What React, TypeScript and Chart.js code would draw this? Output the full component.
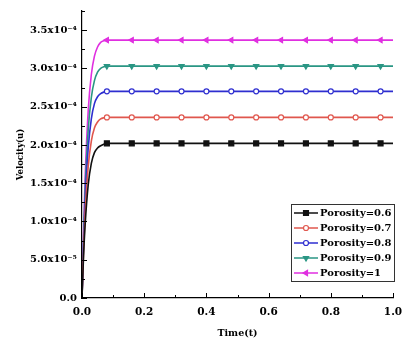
import React, { useEffect, useRef } from "react";
import { Chart, registerables } from "chart.js";
import { drawPoint } from "chart.js/helpers";

Chart.register(...registerables);

// Time samples (t)
const TIME = [0, 0.005, 0.01, 0.02, 0.03, 0.04, 0.05, 0.06, 0.07, 0.08, 0.16, 0.24, 0.32, 0.4, 0.48, 0.56, 0.64, 0.72, 0.8, 0.88, 0.96, 1.0];
const MARKER_TIMES = [0.08, 0.16, 0.24, 0.32, 0.4, 0.48, 0.56, 0.64, 0.72, 0.8, 0.88, 0.96];

// Velocity values in units of 1e-4
const POROSITY_06 = [0, 0.55, 0.95, 1.48, 1.76, 1.9, 1.96, 1.99, 2.01, 2.02, 2.02, 2.02, 2.02, 2.02, 2.02, 2.02, 2.02, 2.02, 2.02, 2.02, 2.02, 2.02];
const POROSITY_07 = [0, 0.62, 1.1, 1.72, 2.05, 2.22, 2.3, 2.34, 2.355, 2.36, 2.36, 2.36, 2.36, 2.36, 2.36, 2.36, 2.36, 2.36, 2.36, 2.36, 2.36, 2.36];
const POROSITY_08 = [0, 0.7, 1.25, 1.96, 2.34, 2.54, 2.63, 2.67, 2.69, 2.7, 2.7, 2.7, 2.7, 2.7, 2.7, 2.7, 2.7, 2.7, 2.7, 2.7, 2.7, 2.7];
const POROSITY_09 = [0, 0.78, 1.4, 2.2, 2.62, 2.84, 2.95, 3.0, 3.02, 3.03, 3.03, 3.03, 3.03, 3.03, 3.03, 3.03, 3.03, 3.03, 3.03, 3.03, 3.03, 3.03];
const POROSITY_10 = [0, 0.86, 1.56, 2.45, 2.92, 3.16, 3.28, 3.34, 3.36, 3.37, 3.37, 3.37, 3.37, 3.37, 3.37, 3.37, 3.37, 3.37, 3.37, 3.37, 3.37, 3.37];

const SERIES_LABELS = ["Porosity=0.6", "Porosity=0.7", "Porosity=0.8", "Porosity=0.9", "Porosity=1"];

const Y_TICKS = [0, 0.5, 1.0, 1.5, 2.0, 2.5, 3.0, 3.5];
const Y_TICK_LABELS = ["0.0", "5.0x10\u207B\u2075", "1.0x10\u207B\u2074", "1.5x10\u207B\u2074", "2.0x10\u207B\u2074", "2.5x10\u207B\u2074", "3.0x10\u207B\u2074", "3.5x10\u207B\u2074"];
const Y_MINOR = [0.25, 0.75, 1.25, 1.75, 2.25, 2.75, 3.25, 3.75];
const X_TICKS = [0, 0.2, 0.4, 0.6, 0.8, 1.0];
const X_TICK_LABELS = ["0.0", "0.2", "0.4", "0.6", "0.8", "1.0"];
const X_MINOR = [0.1, 0.3, 0.5, 0.7, 0.9];

const STYLES = [
  { color: "#111111", pointStyle: "rect", radius: 3.5, rotation: 0, fill: "#111111" },
  { color: "#e0574e", pointStyle: "circle", radius: 2.5, rotation: 0, fill: "#ffffff" },
  { color: "#2e2ed0", pointStyle: "circle", radius: 2.5, rotation: 0, fill: "#ffffff" },
  { color: "#2a9684", pointStyle: "triangle", radius: 3, rotation: 180, fill: "#2a9684" },
  { color: "#e02fe0", pointStyle: "triangle", radius: 3, rotation: 270, fill: "#e02fe0" },
];

const FONT = "'DejaVu Serif', 'Liberation Serif', serif";

const decorPlugin = {
  id: "decor",
  afterDraw(chart: any) {
    const ctx = chart.ctx;
    const xs = chart.scales.x;
    const ys = chart.scales.y;
    const { left, bottom } = chart.chartArea;
    ctx.save();
    ctx.strokeStyle = "#000";
    ctx.lineWidth = 1;
    ctx.beginPath();
    Y_TICKS.forEach((v) => {
      const y = Math.round(ys.getPixelForValue(v)) + 0.5;
      ctx.moveTo(left, y);
      ctx.lineTo(left + 5, y);
    });
    Y_MINOR.forEach((v) => {
      const y = Math.round(ys.getPixelForValue(v)) + 0.5;
      ctx.moveTo(left, y);
      ctx.lineTo(left + 3, y);
    });
    X_TICKS.forEach((v) => {
      const x = Math.round(xs.getPixelForValue(v)) + 0.5;
      ctx.moveTo(x, bottom);
      ctx.lineTo(x, bottom - 5);
    });
    X_MINOR.forEach((v) => {
      const x = Math.round(xs.getPixelForValue(v)) + 0.5;
      ctx.moveTo(x, bottom);
      ctx.lineTo(x, bottom - 3);
    });
    ctx.stroke();

    // legend
    const bx = 291.5, by = 204.5, bw = 103, bh = 77;
    ctx.fillStyle = "#fff";
    ctx.fillRect(bx, by, bw, bh);
    ctx.strokeStyle = "#333";
    ctx.strokeRect(bx, by, bw, bh);
    ctx.font = "bold 10px " + FONT;
    ctx.textBaseline = "middle";
    SERIES_LABELS.forEach((label, i) => {
      const st = STYLES[i];
      const y = 213 + i * 15;
      ctx.strokeStyle = st.color;
      ctx.lineWidth = 1.5;
      ctx.beginPath();
      ctx.moveTo(294, y);
      ctx.lineTo(318, y);
      ctx.stroke();
      ctx.fillStyle = st.fill;
      ctx.strokeStyle = st.color;
      ctx.lineWidth = 1.2;
      drawPoint(ctx, { pointStyle: st.pointStyle as any, radius: st.radius, rotation: st.rotation, borderWidth: 1.2 } as any, 306, y);
      ctx.fillStyle = "#000";
      ctx.fillText(label, 320, y + 0.5);
    });
    ctx.restore();
  },
};

export default function App() {
  const ref = useRef<HTMLCanvasElement>(null);
  useEffect(() => {
    if (!ref.current) return;
    const all = [POROSITY_06, POROSITY_07, POROSITY_08, POROSITY_09, POROSITY_10];
    const chart = new Chart(ref.current, {
      type: "line",
      data: {
        datasets: all.map((vals, i) => ({
          label: SERIES_LABELS[i],
          data: TIME.map((t, j) => ({ x: t, y: vals[j] })),
          borderColor: STYLES[i].color,
          backgroundColor: STYLES[i].fill,
          pointBorderColor: STYLES[i].color,
          pointBackgroundColor: STYLES[i].fill,
          pointStyle: STYLES[i].pointStyle as any,
          pointRotation: STYLES[i].rotation,
          pointBorderWidth: 1.2,
          pointRadius: (c: any) => (MARKER_TIMES.includes(TIME[c.dataIndex]) ? STYLES[i].radius : 0),
          borderWidth: 1.6,
          cubicInterpolationMode: "monotone" as const,
          fill: false,
        })),
      },
      options: {
        responsive: false,
        animation: false,
        layout: { padding: { left: 16, right: 10, top: 11, bottom: 6 } },
        plugins: { legend: { display: false }, tooltip: { enabled: false } },
        scales: {
          x: {
            type: "linear",
            min: 0,
            max: 1,
            afterBuildTicks: (s: any) => {
              s.ticks = X_TICKS.map((v) => ({ value: v }));
            },
            afterFit: (s: any) => {
              s.height = 41;
              s.paddingLeft = 0;
              s.paddingRight = 0;
            },
            grid: { display: false, drawTicks: false },
            border: { display: true, color: "#000", width: 1.2 },
            ticks: {
              padding: 8,
              color: "#000",
              font: { family: FONT, size: 10.5, weight: "bold" },
              maxRotation: 0,
              callback: (v: any) => {
                const k = X_TICKS.findIndex((t) => Math.abs(t - v) < 1e-9);
                return k >= 0 ? X_TICK_LABELS[k] : "";
              },
            },
            title: {
              display: true,
              text: "Time(t)",
              color: "#000",
              padding: { top: 0, bottom: 0 },
              font: { family: FONT, size: 9.5, weight: "bold" },
            },
          },
          y: {
            type: "linear",
            min: 0,
            max: 3.75,
            afterBuildTicks: (s: any) => {
              s.ticks = Y_TICKS.map((v) => ({ value: v }));
            },
            afterFit: (s: any) => {
              s.width = 66;
              s.paddingTop = 0;
              s.paddingBottom = 0;
            },
            grid: { display: false, drawTicks: false },
            border: { display: true, color: "#000", width: 1.2 },
            ticks: {
              padding: 5,
              color: "#000",
              font: { family: FONT, size: 10, weight: "bold" },
              callback: (v: any) => {
                const k = Y_TICKS.findIndex((t) => Math.abs(t - v) < 1e-9);
                return k >= 0 ? Y_TICK_LABELS[k] : "";
              },
            },
            title: {
              display: true,
              text: "Velocity(u)",
              color: "#000",
              padding: { top: 0, bottom: 0 },
              font: { family: FONT, size: 8.5, weight: "bold" },
            },
          },
        },
      },
      plugins: [decorPlugin],
    });
    return () => chart.destroy();
  }, []);
  return (
    <div style={{ position: "absolute", left: 0, top: 0, width: 403, height: 345, background: "#fff" }}>
      <canvas ref={ref} width={403} height={345} style={{ display: "block" }} />
    </div>
  );
}
